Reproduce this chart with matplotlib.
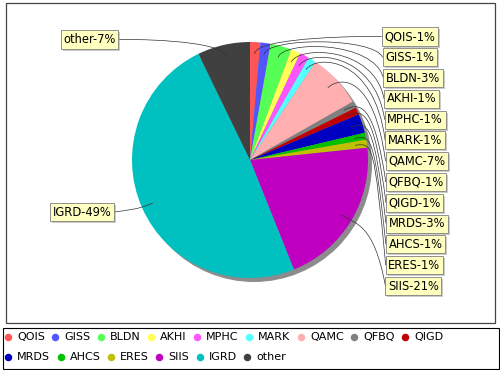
import numpy as np
import matplotlib
matplotlib.use('Agg')
import matplotlib.pyplot as plt
from matplotlib.path import Path
from matplotlib.patches import PathPatch, Rectangle, Circle

# slice data (clockwise from 12 o'clock)
names = ['QOIS', 'GISS', 'BLDN', 'AKHI', 'MPHC', 'MARK', 'QAMC', 'QFBQ',
         'QIGD', 'MRDS', 'AHCS', 'ERES', 'SIIS', 'IGRD', 'other']
values = [1.4, 1.4, 2.9, 1.3, 1.3, 1.1, 7.4, 0.9,
          1.0, 2.6, 0.95, 1.1, 20.6, 48.9, 7.2]
colors = ['#ff5555', '#5555ff', '#55ff55', '#ffff55', '#ff55ff', '#55ffff',
          '#ffafaf', '#808080', '#c00000', '#0000c0', '#00c000', '#c0c000',
          '#c000c0', '#00c0c0', '#404040']
legend_rows = [names[:9], names[9:]]

W, H = 500, 370
plt.rcParams['font.family'] = 'DejaVu Sans'
fig = plt.figure(figsize=(5, 3.7), dpi=100)
ax = fig.add_axes([0, 0, 1, 1])
renderer = fig.canvas.get_renderer()


def fy(y):
    # picture rows run downwards, axes y runs upwards
    return H - y


cx, cy, R = 250, 160, 118

# plot frame
ax.add_patch(Rectangle((5.5, fy(322.5)), 489, 320, fill=False, ec='#444444', lw=0.9))

# pie shadow + pie
ax.add_patch(Circle((cx + 4, fy(cy + 4)), R, fc='#8c8c8c', ec='none'))
ax.pie(values, colors=colors, startangle=90, counterclock=False,
       center=(cx, fy(cy)), radius=R, frame=True, wedgeprops=dict(lw=0))
ax.set_xlim(0, W)
ax.set_ylim(0, H)
ax.set_axis_off()

# mid angles, measured clockwise from the top
total = sum(values)
mids = []
acc = 0
for v in values:
    mids.append(np.deg2rad((acc + v / 2) / total * 360))
    acc += v

right_idx = [i for i in range(len(values)) if mids[i] < np.pi]
left_idx = [14, 13]
right_ys = np.linspace(36.5, 286, len(right_idx))
left_ys = [39.5, 212]

link_r = 0.9 * R
elbow_r = 124
fs = 8.3
pad_px = 0.22 * fs * 100 / 72


def draw_label(i, ty, side):
    a = mids[i]
    dx, dy = np.sin(a), -np.cos(a)
    lx, ly = cx + link_r * dx, cy + link_r * dy
    ex, ey = cx + elbow_r * dx, cy + elbow_r * dy
    d = 136 - 0.00013 * (ty - 220) ** 2
    tx = cx + side * d
    anc = cx + side * elbow_r
    verts = [(lx, fy(ly)), (ex, fy(ey)), (anc, fy(ey)), (tx, fy(ty))]
    codes = [Path.MOVETO, Path.CURVE4, Path.CURVE4, Path.CURVE4]
    ax.add_patch(PathPatch(Path(verts, codes), fill=False, ec='#333333', lw=0.5))

    pct = values[i] / total * 100
    label = f"{names[i]}-{pct:.0f}%"
    ha = 'left' if side > 0 else 'right'
    xt = tx + side * pad_px
    t = ax.text(xt, fy(ty), label, ha=ha, va='center', fontsize=fs, color='black',
                bbox=dict(boxstyle='square,pad=0.22', fc='#ffffc0', ec='#808080', lw=0.6))
    bb = t.get_window_extent(renderer)
    # small drop shadow behind the label box
    ax.add_patch(Rectangle((bb.x0 - pad_px + 2, bb.y0 - pad_px - 2),
                           bb.width + 2 * pad_px, bb.height + 2 * pad_px,
                           fc=(0.6, 0.6, 0.6, 0.5), ec='none', zorder=2.5))


for i, ty in zip(right_idx, right_ys):
    draw_label(i, ty, 1)
for i, ty in zip(left_idx, left_ys):
    draw_label(i, ty, -1)

# legend
ax.add_patch(Rectangle((2.5, fy(368.5)), 496, 41, fill=False, ec='black', lw=0.8))
for r, row in enumerate(legend_rows):
    x = 4
    y = fy(337 + 20 * r)
    for name in row:
        i = names.index(name)
        ax.plot(x + 4, y, 'o', ms=5.4, color=colors[i], mec='none')
        t = ax.text(x + 13, y, name, ha='left', va='center', fontsize=8)
        w = t.get_window_extent(renderer).width
        x += 13 + w + 6.5

fig.savefig('out.png', dpi=100)
